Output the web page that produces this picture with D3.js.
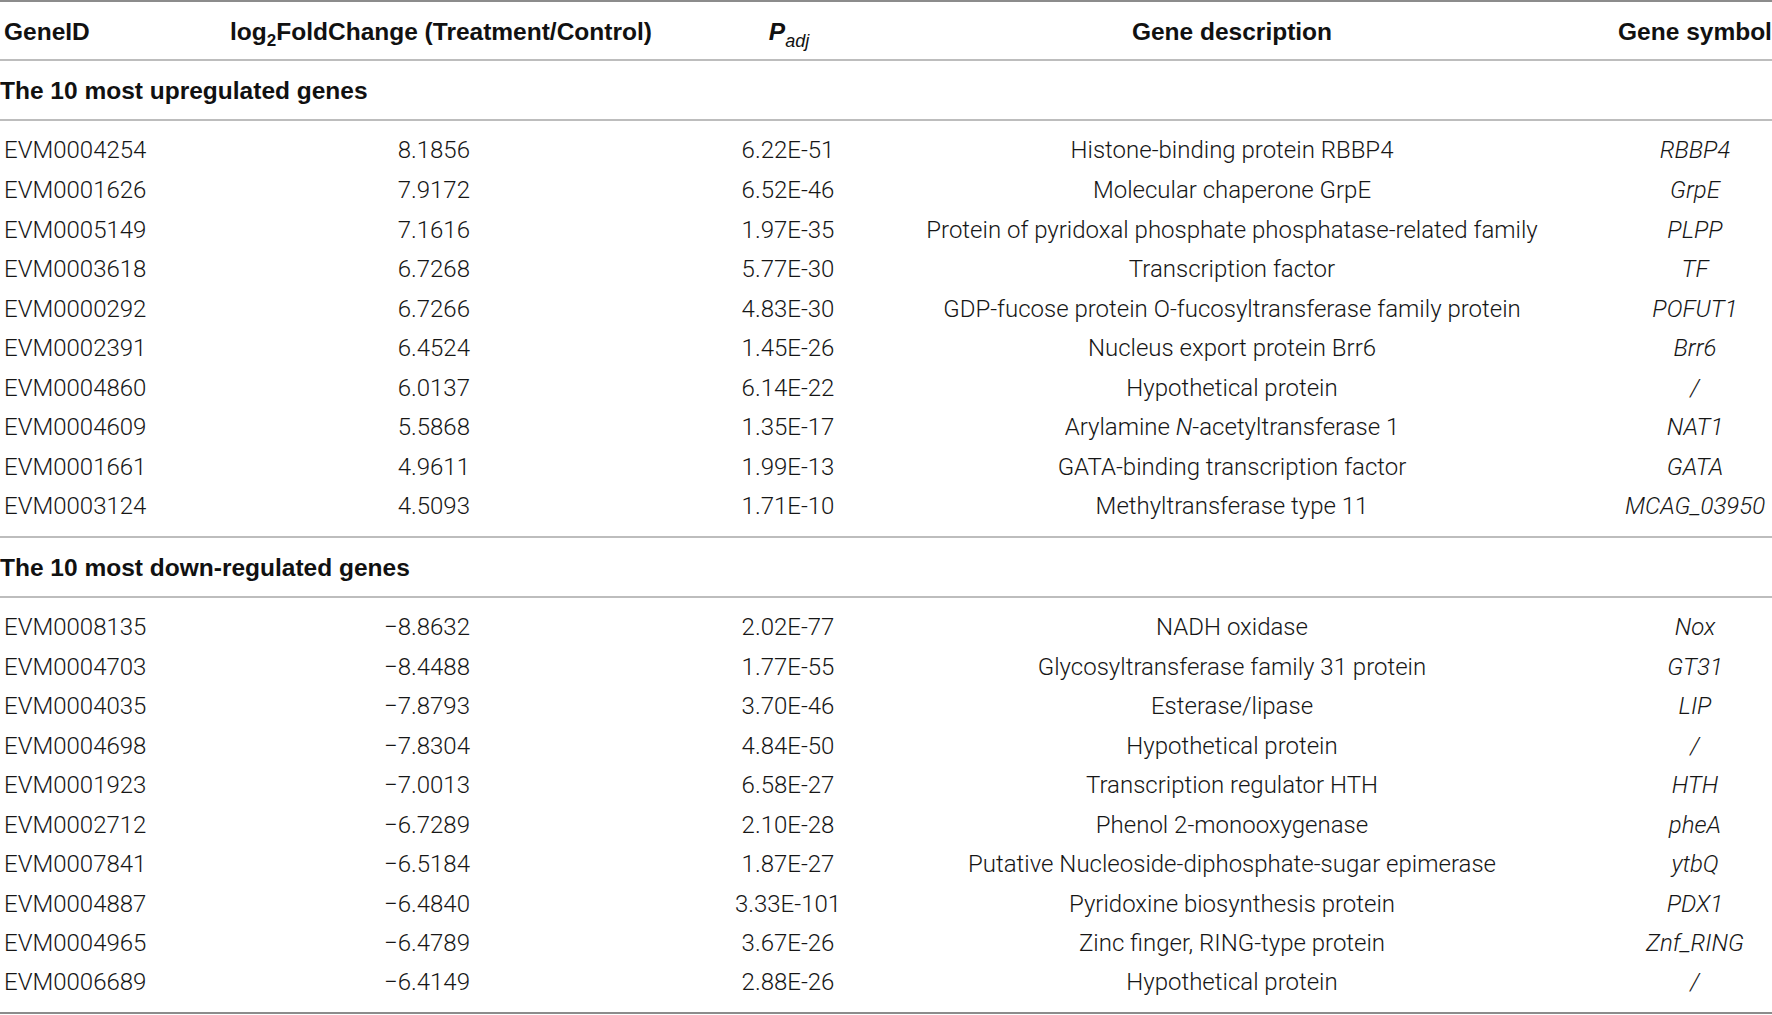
<!DOCTYPE html>
<meta charset="utf-8">
<style>
body { margin: 0; background: #fff; }
svg { display: block; font-family: 'Liberation Sans', Arial, sans-serif; }
.cell { font-family: Roboto, 'Liberation Sans', sans-serif; font-weight: 300; font-size: 24px; fill: #161616; }
.head { font-size: 24.5px; font-weight: bold; fill: #111; }
.sym { font-style: italic; }
.rule { stroke: #bdbdbd; stroke-width: 2; }
.edge { stroke: #8c8c8c; stroke-width: 2; }
</style>
<body>
<div id="tbl"></div>
<script src="https://cdn.jsdelivr.net/npm/d3@7"></script>
<script>
// column keys
var columns = ['id', 'fold', 'padj', 'desc', 'sym'];

// upregulated
var upIds = ['EVM0004254', 'EVM0001626', 'EVM0005149', 'EVM0003618', 'EVM0000292',
             'EVM0002391', 'EVM0004860', 'EVM0004609', 'EVM0001661', 'EVM0003124'];
var upFold = ['8.1856', '7.9172', '7.1616', '6.7268', '6.7266',
              '6.4524', '6.0137', '5.5868', '4.9611', '4.5093'];
var upPadj = ['6.22E-51', '6.52E-46', '1.97E-35', '5.77E-30', '4.83E-30',
              '1.45E-26', '6.14E-22', '1.35E-17', '1.99E-13', '1.71E-10'];
var upDesc = ['Histone-binding protein RBBP4', 'Molecular chaperone GrpE',
              'Protein of pyridoxal phosphate phosphatase-related family', 'Transcription factor',
              'GDP-fucose protein O-fucosyltransferase family protein', 'Nucleus export protein Brr6',
              'Hypothetical protein', 'Arylamine *N*-acetyltransferase 1',
              'GATA-binding transcription factor', 'Methyltransferase type 11'];
var upSym = ['RBBP4', 'GrpE', 'PLPP', 'TF', 'POFUT1', 'Brr6', '/', 'NAT1', 'GATA', 'MCAG_03950'];

// down-regulated
var downIds = ['EVM0008135', 'EVM0004703', 'EVM0004035', 'EVM0004698', 'EVM0001923',
               'EVM0002712', 'EVM0007841', 'EVM0004887', 'EVM0004965', 'EVM0006689'];
var downFold = ['\u22128.8632', '\u22128.4488', '\u22127.8793', '\u22127.8304', '\u22127.0013',
                '\u22126.7289', '\u22126.5184', '\u22126.4840', '\u22126.4789', '\u22126.4149'];
var downPadj = ['2.02E-77', '1.77E-55', '3.70E-46', '4.84E-50', '6.58E-27',
                '2.10E-28', '1.87E-27', '3.33E-101', '3.67E-26', '2.88E-26'];
var downDesc = ['NADH oxidase', 'Glycosyltransferase family 31 protein', 'Esterase/lipase',
                'Hypothetical protein', 'Transcription regulator HTH', 'Phenol 2-monooxygenase',
                'Putative Nucleoside-diphosphate-sugar epimerase', 'Pyridoxine biosynthesis protein',
                'Zinc finger, RING-type protein', 'Hypothetical protein'];
var downSym = ['Nox', 'GT31', 'LIP', '/', 'HTH', 'pheA', 'ytbQ', 'PDX1', 'Znf_RING', '/'];

var sections = ['The 10 most upregulated genes', 'The 10 most down-regulated genes'];

var W = 1772, H = 1015;

var svg = d3.select('#tbl')
            .append('svg')
            .attr('width', W)
            .attr('height', H);

svg.append('rect').attr('width', W).attr('height', H).attr('fill', '#fff');

// cell x positions; fold values are right aligned
var xCol = d3.scaleOrdinal()
  .domain(columns)
  .range([4, 470, 788, 1232, 1695]);
var anchor = d3.scaleOrdinal()
  .domain(columns)
  .range(['start', 'end', 'middle', 'middle', 'middle']);
// header x positions
var xHead = d3.scaleOrdinal()
  .domain(columns)
  .range([4, 441, 789, 1232, 1695]);

var yUp = d3.scaleLinear().domain([0, 9]).range([150, 506]);
var yDown = d3.scaleLinear().domain([0, 9]).range([627, 982]);

// rules
var rules = [
  {y: 1, cls: 'edge'}, {y: 60, cls: 'rule'}, {y: 120, cls: 'rule'},
  {y: 537, cls: 'rule'}, {y: 597, cls: 'rule'}, {y: 1013, cls: 'edge'}
];
svg.selectAll('line.r')
  .data(rules)
  .enter().append('line')
  .attr('class', function(d) { return d.cls; })
  .attr('x1', 0).attr('x2', W)
  .attr('y1', function(d) { return d.y; })
  .attr('y2', function(d) { return d.y; });

// header row
var hy = 31;
function head(key) {
  return svg.append('text')
    .attr('class', 'head')
    .attr('x', xHead(key))
    .attr('y', hy)
    .attr('dy', '0.35em')
    .attr('text-anchor', key === 'id' ? 'start' : 'middle');
}
head('id').text('GeneID');
var hf = head('fold');
hf.append('tspan').text('log');
hf.append('tspan').attr('font-size', 17).attr('dy', 6).text('2');
hf.append('tspan').attr('dy', -6).text('FoldChange (Treatment/Control)');
var hp = head('padj');
hp.append('tspan').attr('font-style', 'italic').text('P');
hp.append('tspan').attr('font-style', 'italic').attr('font-weight', 'normal')
  .attr('font-size', 18).attr('dy', 7).text('adj');
head('desc').text('Gene description');
head('sym').text('Gene symbol');

// section titles
svg.selectAll('text.sec')
  .data(sections)
  .enter().append('text')
  .attr('class', 'head sec')
  .attr('x', 0)
  .attr('y', function(d, i) { return i === 0 ? 90 : 567; })
  .attr('dy', '0.35em')
  .text(function(d) { return d; });

function rowsOf(ids, fold, padj, desc, sym) {
  return ids.map(function(id, i) {
    return {id: id, fold: fold[i], padj: padj[i], desc: desc[i], sym: sym[i], i: i};
  });
}

function drawBlock(rows, y) {
  var g = svg.append('g');
  var row = g.selectAll('g.row')
    .data(rows)
    .enter().append('g')
    .attr('class', 'row')
    .attr('transform', function(d) { return 'translate(0,' + y(d.i) + ')'; });

  columns.forEach(function(key) {
    var t = row.append('text')
      .attr('class', key === 'sym' ? 'cell sym' : 'cell')
      .attr('x', xCol(key))
      .attr('dy', '0.35em')
      .attr('text-anchor', anchor(key));
    if (key === 'desc') {
      // *...* marks italic parts
      t.each(function(d) {
        var el = d3.select(this);
        d.desc.split('*').forEach(function(part, k) {
          if (!part) return;
          el.append('tspan')
            .attr('font-style', k % 2 ? 'italic' : null)
            .text(part);
        });
      });
    } else {
      t.text(function(d) { return d[key]; });
    }
  });
}

drawBlock(rowsOf(upIds, upFold, upPadj, upDesc, upSym), yUp);
drawBlock(rowsOf(downIds, downFold, downPadj, downDesc, downSym), yDown);
</script>
</body>
